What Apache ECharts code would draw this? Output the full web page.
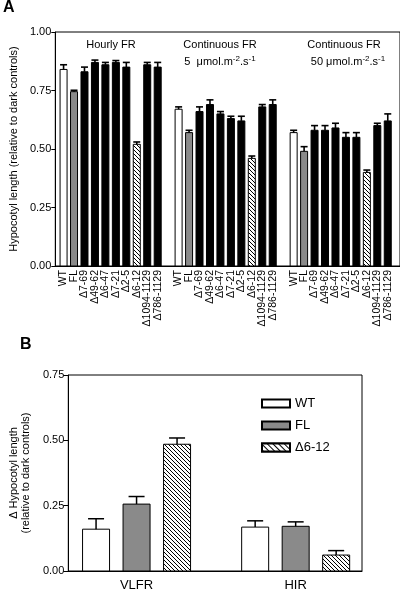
<!DOCTYPE html>
<html>
<head>
<meta charset="utf-8">
<script src="https://cdn.jsdelivr.net/npm/echarts@6/dist/echarts.min.js"></script>
<style>html,body{margin:0;padding:0;background:#fff}#c{width:400px;height:592px}</style>
</head>
<body>
<div id="c"></div>
<script>
// ---------- Panel A data ----------
var genotypes = ['WT','FL','Δ7-69','Δ49-62','Δ6-47','Δ7-21','Δ2-5','Δ6-12','Δ1094-1129','Δ786-1129'];
var hourlyFR     = [0.84, 0.745, 0.83, 0.87, 0.86, 0.87, 0.85, 0.52, 0.86, 0.85];
var hourlyFRErr  = [0.02, 0.006, 0.02, 0.01, 0.01, 0.008, 0.02, 0.01, 0.01, 0.02];
var cont5FR      = [0.67, 0.57, 0.66, 0.69, 0.65, 0.63, 0.62, 0.46, 0.68, 0.69];
var cont5FRErr   = [0.01, 0.01, 0.02, 0.02, 0.01, 0.01, 0.02, 0.01, 0.01, 0.02];
var cont50FR     = [0.57, 0.49, 0.58, 0.58, 0.59, 0.55, 0.55, 0.40, 0.60, 0.62];
var cont50FRErr  = [0.01, 0.02, 0.02, 0.02, 0.02, 0.02, 0.02, 0.01, 0.01, 0.03];
var treatmentTitles = ['Hourly FR', 'Continuous FR', 'Continuous FR'];

// ---------- Panel B data ----------
var responseModes = ['VLFR', 'HIR'];
var bLines   = ['WT', 'FL', 'Δ6-12'];
var bWT      = [0.16, 0.168];
var bWTErr   = [0.04, 0.024];
var bFL      = [0.256, 0.171];
var bFLErr   = [0.029, 0.017];
var bD612    = [0.485, 0.061];
var bD612Err = [0.024, 0.017];

var FONT = '"Liberation Sans", Arial, sans-serif';
var GRAY = '#8a8a8a';

// hatch pattern "\\\\"
function makeHatch(s) {
  var c = document.createElement('canvas'); c.width = s; c.height = s;
  var g = c.getContext('2d');
  g.fillStyle = '#fff'; g.fillRect(0, 0, s, s);
  g.strokeStyle = '#000'; g.lineWidth = 1;
  g.beginPath();
  g.moveTo(0, 0); g.lineTo(s, s);
  g.moveTo(-1, s - 1); g.lineTo(1, s + 1);
  g.moveTo(s - 1, -1); g.lineTo(s + 1, 1);
  g.stroke();
  return {image: c, repeat: 'repeat'};
}
var hatchFill = makeHatch(4);
var hatchDecal = {symbol: 'rect', symbolSize: 1, dashArrayX: [1, 0], dashArrayY: [1, 2.2],
  rotation: Math.PI / 4, color: '#000', backgroundColor: '#fff'};

function fillFor(k) {
  if (k === 0) return '#fff';
  if (k === 1) return GRAY;
  if (k === 7) return hatchFill;
  return '#000';
}

var groupsA = [[hourlyFR, hourlyFRErr], [cont5FR, cont5FRErr], [cont50FR, cont50FRErr]];
var dataA = [];
groupsA.forEach(function (g, gi) {
  g[0].forEach(function (v, k) {
    var x = gi * (genotypes.length + 1) + k;
    dataA.push([x, v, g[1][k], k]);
  });
});

// custom bar + error bar renderer (optional category label under the bar)
function barRender(barW, capHalf, dx, lw, fillFn, labelFn) {
  return function (params, api) {
    var x = api.value(0), v = api.value(1), e = api.value(2), k = api.value(3);
    var top = api.coord([x, v]); var base = api.coord([x, 0]); var et = api.coord([x, v + e]);
    var cx = top[0] + dx;
    var st = {stroke: '#000', lineWidth: lw};
    var children = [
      {type: 'rect', shape: {x: cx - barW / 2, y: top[1], width: barW, height: base[1] - top[1]},
        style: {fill: fillFn(k), stroke: '#000', lineWidth: 1}},
      {type: 'line', shape: {x1: cx, y1: top[1], x2: cx, y2: et[1]}, style: st},
      {type: 'line', shape: {x1: cx - capHalf, y1: et[1], x2: cx + capHalf, y2: et[1]}, style: st}
    ];
    if (labelFn) {
      children.push({type: 'text', x: cx, y: base[1] + 4, rotation: Math.PI / 2,
        style: {text: labelFn(k), font: '10.5px ' + FONT, fill: '#000', align: 'right', verticalAlign: 'middle'}});
    }
    return {type: 'group', children: children};
  };
}

var BW_B = 27, GAP_B = 13.5;
var bFills = ['#fff', GRAY, hatchFill];
function bSeries(idx, vals, errs) {
  return {name: 'b' + idx, type: 'custom', xAxisIndex: 1, yAxisIndex: 1, z: 3, silent: true,
    renderItem: barRender(BW_B, 8, (idx - 1) * (BW_B + GAP_B), 1.5, function () { return bFills[idx]; }),
    data: vals.map(function (v, i) { return [i, v, errs[i], idx]; })};
}
function legendSeries(name, itemStyle) {
  return {name: name, type: 'bar', xAxisIndex: 2, yAxisIndex: 2, data: [], itemStyle: itemStyle};
}

var axisFontA = {fontFamily: FONT, fontSize: 11, color: '#000'};
var chart = echarts.init(document.getElementById('c'), null, {renderer: 'canvas'});
chart.setOption({
  backgroundColor: '#fff',
  animation: false,
  textStyle: {fontFamily: FONT},
  grid: [
    {left: 47, top: 32, width: 354, height: 234, show: true, borderColor: '#000', borderWidth: 1},
    {left: 63, top: 375, width: 299, height: 198, show: true, borderColor: '#000', borderWidth: 1},
    {left: 600, top: 0, width: 10, height: 10}
  ],
  xAxis: [
    {gridIndex: 0, type: 'value', min: -0.79, max: 32.17, splitLine: {show: false},
      axisLine: {show: true, onZero: false, lineStyle: {color: '#000', width: 1}},
      axisTick: {show: false}, axisLabel: {show: false}},
    {gridIndex: 1, type: 'value', min: -0.429, max: 1.417, splitLine: {show: false},
      axisLine: {show: true, onZero: false, lineStyle: {color: '#000', width: 1}},
      axisTick: {show: false},
      axisLabel: {customValues: [0, 1], fontFamily: FONT, fontSize: 13, color: '#000', margin: 8,
        interval: 0, showMinLabel: true, showMaxLabel: true,
        formatter: function (v) { return responseModes[Math.round(v)]; }}},
    {gridIndex: 2, type: 'value', show: false}
  ],
  yAxis: [
    {gridIndex: 0, type: 'value', min: 0, max: 1, interval: 0.25, splitLine: {show: false},
      axisLine: {show: true, onZero: false, lineStyle: {color: '#000', width: 1}},
      axisTick: {show: true, length: 4, lineStyle: {color: '#000'}},
      axisLabel: Object.assign({margin: 4, formatter: function (v) { return v.toFixed(2); }}, axisFontA),
      name: 'Hypocotyl length (relative to dark controls)', nameLocation: 'middle', nameRotate: 90, nameGap: 32,
      nameTextStyle: {fontFamily: FONT, fontSize: 11, color: '#000'}},
    {gridIndex: 1, type: 'value', min: 0, max: 0.75, interval: 0.25, splitLine: {show: false},
      axisLine: {show: true, onZero: false, lineStyle: {color: '#000', width: 1}},
      axisTick: {show: true, length: 5, lineStyle: {color: '#000'}},
      axisLabel: Object.assign({margin: 4, formatter: function (v) { return v.toFixed(2); }}, axisFontA),
      name: 'Δ Hypocotyl length\n(relative to dark controls)', nameLocation: 'middle', nameRotate: 90, nameGap: 26,
      nameTextStyle: {fontFamily: FONT, fontSize: 11, color: '#000', lineHeight: 12}},
    {gridIndex: 2, type: 'value', show: false}
  ],
  legend: {
    data: bLines, orient: 'vertical', left: 261, top: 397, padding: 0,
    itemWidth: 28, itemHeight: 8, itemGap: 9, icon: 'rect',
    textStyle: {fontFamily: FONT, fontSize: 13, color: '#000'}, selectedMode: false
  },
  graphic: [
    {type: 'text', left: 3, top: 0, style: {text: 'A', font: 'bold 16px ' + FONT, fill: '#000'}},
    {type: 'text', left: 20, top: 337, style: {text: 'B', font: 'bold 16px ' + FONT, fill: '#000'}},
    {type: 'text', x: 111, y: 45, style: {text: treatmentTitles[0], font: '11px ' + FONT, fill: '#000', align: 'center', verticalAlign: 'middle'}},
    {type: 'text', x: 220, y: 45, style: {text: treatmentTitles[1], font: '11px ' + FONT, fill: '#000', align: 'center', verticalAlign: 'middle'}},
    {type: 'text', x: 344, y: 45, style: {text: treatmentTitles[2], font: '11px ' + FONT, fill: '#000', align: 'center', verticalAlign: 'middle'}},
    {type: 'text', x: 220, y: 62, style: {text: '{n|5  μmol.m}{s|-2}{n|.s}{s|-1}', align: 'center', verticalAlign: 'middle',
      rich: {n: {font: '11px ' + FONT, fill: '#000'}, s: {font: '8px ' + FONT, fill: '#000', padding: [0, 0, 7, 0]}}}},
    {type: 'text', x: 348, y: 62, style: {text: '{n|50 μmol.m}{s|-2}{n|.s}{s|-1}', align: 'center', verticalAlign: 'middle',
      rich: {n: {font: '11px ' + FONT, fill: '#000'}, s: {font: '8px ' + FONT, fill: '#000', padding: [0, 0, 7, 0]}}}}
  ],
  series: [
    {name: 'panelA', type: 'custom', xAxisIndex: 0, yAxisIndex: 0, z: 3, silent: true, clip: false,
      renderItem: barRender(7, 3.5, 0, 1.6, fillFor, function (k) { return genotypes[k]; }), data: dataA},
    bSeries(0, bWT, bWTErr),
    bSeries(1, bFL, bFLErr),
    bSeries(2, bD612, bD612Err),
    legendSeries(bLines[0], {color: '#fff', borderColor: '#000', borderWidth: 1}),
    legendSeries(bLines[1], {color: GRAY, borderColor: '#000', borderWidth: 1}),
    legendSeries(bLines[2], {color: '#fff', borderColor: '#000', borderWidth: 1, decal: hatchDecal})
  ]
});
</script>
</body>
</html>
